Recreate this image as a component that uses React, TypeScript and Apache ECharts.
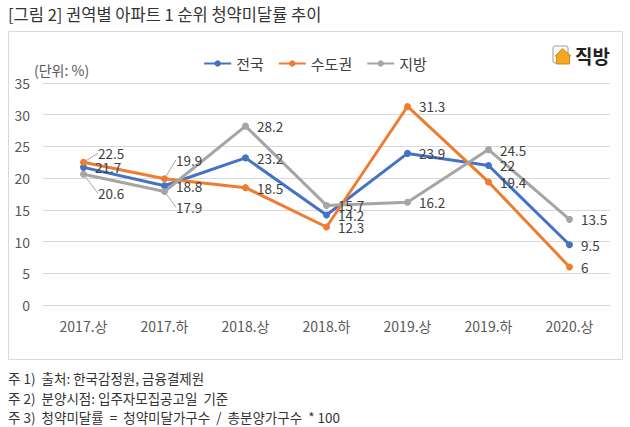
import React, { useEffect, useRef } from "react";
import * as echarts from "echarts";

const categories = ["2017.상", "2017.하", "2018.상", "2018.하", "2019.상", "2019.하", "2020.상"];
const seriesNames = ["전국", "수도권", "지방"];
const nationwide = [21.7, 18.8, 23.2, 14.2, 23.9, 22, 9.5];
const capital = [22.5, 19.9, 18.5, 12.3, 31.3, 19.4, 6];
const regional = [20.6, 17.9, 28.2, 15.7, 16.2, 24.5, 13.5];
const yTicks = { min: 0, max: 35, interval: 5 };
const title = "[그림 2] 권역별 아파트 1 순위 청약미달률 추이";
const unitLabel = "(단위: %)";
const notes = [
  "주 1)  출처: 한국감정원, 금융결제원",
  "주 2)  분양시점: 입주자모집공고일  기준",
  "주 3)  청약미달률  =  청약미달가구수  /  총분양가구수  * 100",
];
const logoText = "직방";

const COLORS = ["#4472C4", "#ED7D31", "#A5A5A5"];
const FONT = "'Noto Sans CJK KR', 'Noto Sans', sans-serif";

export default function App() {
  const ref = useRef<HTMLDivElement>(null);
  useEffect(() => {
    document.body.style.margin = "0";
    const chart = echarts.init(ref.current!, null, { renderer: "svg" });
    const labelMoves: Record<string, Record<number, number[]>> = {
      "수도권": { 0: [3, -9], 1: [0, -19] },
      "지방": { 0: [3, 19], 1: [0, 16] },
    };
    const mk = (name: string, data: number[], color: string) => ({
      name,
      type: "line",
      data: data.map((v, i) =>
        labelMoves[name]?.[i] ? { value: v, labelLine: { show: true } } : { value: v, labelLine: { show: false } }
      ),
      symbol: "circle",
      symbolSize: 7,
      lineStyle: { width: 3, color },
      itemStyle: { color },
      label: {
        show: true,
        position: "right",
        distance: 8,
        fontSize: 13.5,
        color: "#404040",
        fontFamily: FONT,
      },
      labelLine: { show: false, lineStyle: { color: "#a6a6a6", width: 1 }, length2: 0 },
      labelLayout: (p: any) => {
        const m = labelMoves[name]?.[p.dataIndex];
        return m ? { dx: m[0], dy: m[1] } : {};
      },
    });
    chart.setOption({
      animation: false,
      textStyle: { fontFamily: FONT },
      legend: {
        top: 51,
        left: "center",
        itemWidth: 27,
        itemHeight: 8,
        itemGap: 14,
        textStyle: { fontSize: 15, color: "#404040", fontFamily: FONT },
        data: seriesNames,
      },
      grid: { left: 43, right: 20, top: 83, bottom: 122, containLabel: false },
      xAxis: {
        type: "category",
        data: categories,
        boundaryGap: true,
        axisLine: { lineStyle: { color: "#d9d9d9" } },
        axisTick: { show: false },
        axisLabel: { fontSize: 14, color: "#595959", margin: 14, fontFamily: FONT },
      },
      yAxis: {
        type: "value",
        min: yTicks.min,
        max: yTicks.max,
        interval: yTicks.interval,
        axisLine: { show: false },
        axisTick: { show: false },
        splitLine: { lineStyle: { color: "#d9d9d9" } },
        axisLabel: { fontSize: 14, color: "#595959", margin: 13, fontFamily: FONT },
      },
      series: [
        mk(seriesNames[0], nationwide, COLORS[0]),
        mk(seriesNames[1], capital, COLORS[1]),
        mk(seriesNames[2], regional, COLORS[2]),
      ],
      graphic: [
        {
          type: "rect",
          shape: { x: 8.5, y: 31.5, width: 614, height: 328 },
          style: { fill: "none", stroke: "#d9d9d9", lineWidth: 1 },
          silent: true,
        },
        {
          type: "text",
          x: 8,
          y: 14,
          style: { text: title, fontSize: 16.5, fill: "#333", fontFamily: FONT, verticalAlign: "middle" },
        },
        {
          type: "text",
          x: 34,
          y: 70,
          style: { text: unitLabel, fontSize: 14, fill: "#595959", fontFamily: FONT, verticalAlign: "middle" },
        },
        {
          type: "rect",
          shape: { x: 553, y: 46, width: 15, height: 17, r: 2 },
          style: { fill: "#fff", stroke: "#999", lineWidth: 1 },
        },
        {
          type: "polygon",
          shape: { points: [[555, 56], [562.5, 48.5], [571, 56], [569.5, 56], [569.5, 64], [556.5, 64], [556.5, 56]] },
          style: { fill: "#F5A623", stroke: "#D98A10", lineWidth: 1 },
        },
        {
          type: "text",
          x: 575,
          y: 55,
          style: { text: logoText, fontSize: 19, fontWeight: "bold", fill: "#222", fontFamily: FONT, verticalAlign: "middle" },
        },
        ...notes.map((t, i) => ({
          type: "text",
          x: 8,
          y: 378 + i * 19.5,
          style: { text: t, fontSize: 13.5, fill: "#333", fontFamily: FONT, verticalAlign: "middle" },
        })),
      ],
    });
    return () => chart.dispose();
  }, []);
  return <div ref={ref} style={{ width: 630, height: 427 }} />;
}
